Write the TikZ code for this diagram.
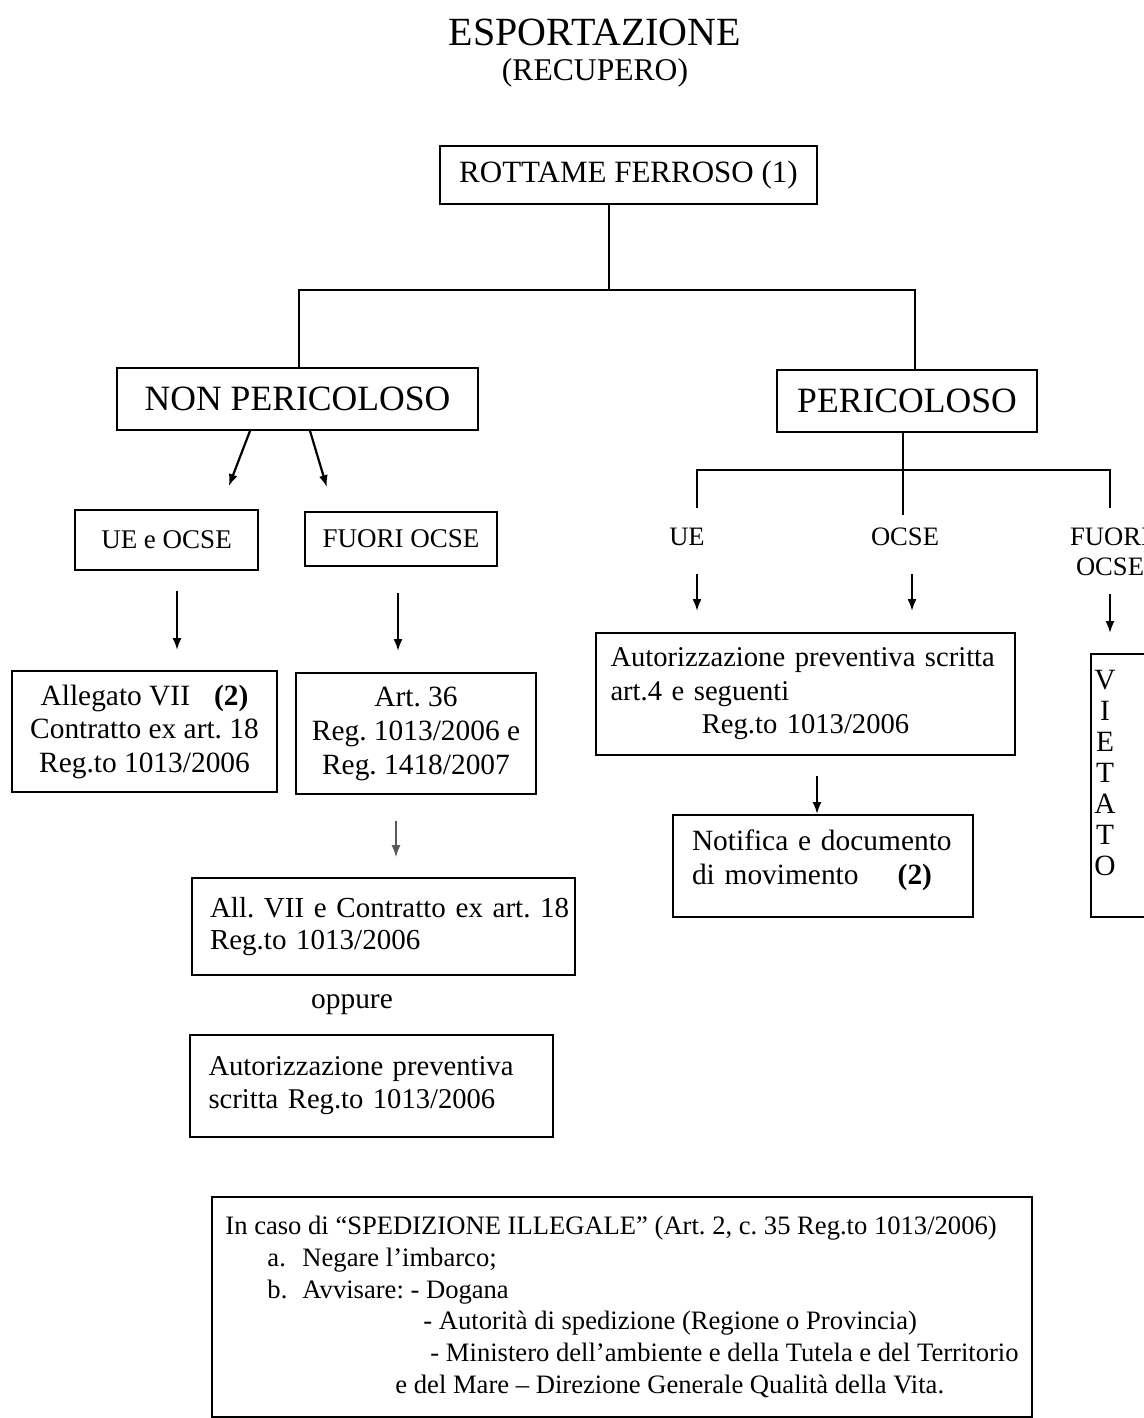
\documentclass[tikz,border=0pt]{standalone}
\usepackage{fontspec}
\setmainfont{Liberation Serif}
\usepackage{tikz}
\usetikzlibrary{arrows}
\usetikzlibrary{arrows.meta}
\usetikzlibrary{positioning}
\tikzset{box/.style = {draw, line width = 0.9, inner sep = 0, align = center}}
\tikzset{lbl/.style = {inner sep = 0, align = center, font = \fontsize{13.3}{15}\selectfont}}
\tikzset{conn/.style = {line width = 1.1}}
\tikzset{arr/.style = {-{Latex[length = 6pt, width = 4.5pt]}, line width = 1.1}}
\newcommand{\bodyfont}{\fontsize{14.7}{16.8}\selectfont}
\newcommand{\smallbox}{\fontsize{13.5}{16}\selectfont}
\frenchspacing

\begin{document}
\begin{tikzpicture}[x=0.5pt, y=-0.5pt, font=\bodyfont]
      \useasboundingbox (0, 0) rectangle (1144, 1418);

      \node (title) [font=\fontsize{20}{24}\selectfont] at (595, 32) {ESPORTAZIONE};
      \node (subtitle) [font=\fontsize{15.8}{19}\selectfont] at (595, 73) {(RECUPERO)};

      \node (rottame) [box, minimum width=188.5pt, minimum height=29pt, font=\fontsize{15.5}{18}\selectfont] at (628.5, 175) {ROTTAME FERROSO (1)};
      \node (nonper) [box, minimum width=180.5pt, minimum height=31pt, font=\fontsize{17.8}{20}\selectfont] at (297.5, 399) {NON PERICOLOSO};
      \node (per) [box, minimum width=130pt, minimum height=31pt, font=\fontsize{17.8}{20}\selectfont] at (907, 401) {PERICOLOSO};

      \node (ueocse) [box, minimum width=91.5pt, minimum height=30pt, font=\smallbox] at (166.5, 540) {UE e OCSE};
      \node (fuoriocse) [box, minimum width=96pt, minimum height=27pt, font=\smallbox] at (401, 539) {FUORI OCSE};

      \node (allegato) [box, minimum width=132.5pt, minimum height=60.5pt, font=\fontsize{14.7}{16.75}\selectfont] at (144.5, 731.5) {Allegato VII\hspace{12pt}\textbf{(2)}\\Contratto ex art. 18\\Reg.to 1013/2006};
      \node (art36) [box, minimum width=120pt, minimum height=60.5pt, font=\fontsize{14.7}{17}\selectfont] at (416, 733.5) {Art. 36\\Reg. 1013/2006 e\\Reg. 1418/2007};
      \node (allvii) [box, minimum width=191.5pt, minimum height=48.5pt, text width=173.5pt, align=left, font=\fontsize{14.5}{16}\selectfont] at (383.5, 926.5) {\makebox[\hsize][s]{All. VII e Contratto ex art. 18}\\Reg.to 1013/2006};
      \node (oppure) at (352, 1005) {oppure};
      \node (autprev) [box, minimum width=181.5pt, minimum height=51pt, text width=163pt, align=left, font=\fontsize{14.3}{16.5}\selectfont] at (371.5, 1086) {Autorizzazione preventiva\\scritta Reg.to 1013/2006};

      \node (ue) [lbl] at (687, 537) {UE};
      \node (ocse) [lbl] at (905, 537) {OCSE};
      \node (fuori) [lbl] at (1110, 552) {FUORI\\OCSE};

      \node (autscritta) [box, minimum width=209.5pt, minimum height=61pt, text width=195pt, align=left, font=\fontsize{14.3}{16.75}\selectfont] at (805.5, 694) {Autorizzazione preventiva scritta\\art.4 e seguenti\\\makebox[\hsize]{Reg.to 1013/2006}};
      \node (notifica) [box, minimum width=150pt, minimum height=51pt, text width=131pt, align=left, text depth=26pt, font=\fontsize{14.7}{17}\selectfont] at (823, 866) {\makebox[\hsize][s]{Notifica e documento}\\\makebox[\hsize][l]{di movimento\hfill\textbf{(2)}\hspace{11pt}}};
      \node (vietato) [box, minimum width=42pt, minimum height=131.5pt, text width=40pt, inner xsep=1pt, align=left, text depth=106pt, font=\fontsize{14.7}{15.5}\selectfont] at (1133, 785.5) {\makebox[12pt]{V}\\\makebox[12pt]{I}\\\makebox[12pt]{E}\\\makebox[12pt]{T}\\\makebox[12pt]{A}\\\makebox[12pt]{T}\\\makebox[12pt]{O}};

      \node (illegale) [box, minimum width=410pt, minimum height=110pt, align=left, font=\fontsize{13.3}{15.9}\selectfont] at (622, 1307) {In caso di “SPEDIZIONE ILLEGALE” (Art. 2, c. 35 Reg.to 1013/2006)\\
        \hspace*{21pt}\makebox[17.5pt][l]{a.}Negare l’imbarco;\\
        \hspace*{21pt}\makebox[17.5pt][l]{b.}Avvisare: - Dogana\\
        \hspace*{99pt}- Autorità di spedizione (Regione o Provincia)\\
        \hspace*{102.5pt}- Ministero dell’ambiente e della Tutela e del Territorio\\
        \hspace*{85pt}e del Mare -- Direzione Generale Qualità della Vita.};

      \coordinate (split) at (609, 290);
      \coordinate (hub) at (903, 470);

      \draw [conn] (rottame.south -| split) -- (split);
      \draw [conn] ([xshift=0.75pt]nonper.north) |- (split) -| ([xshift=4pt]per.north);
      \draw [conn] (per.south -| hub) -- (hub);
      \draw [conn, shorten >=10pt] (hub) -| ([xshift=5pt]ue.north);
      \draw [conn, shorten >=6.5pt] (hub) -- (hub |- ocse.north);
      \draw [conn, shorten >=10pt] (hub) -| (fuori.north);

      \draw [arr, shorten >=12.3pt] ([xshift=-23.75pt]nonper.south) -- ([xshift=26.75pt]ueocse.north);
      \draw [arr, shorten >=12.5pt] ([xshift=6.25pt]nonper.south) -- ([xshift=-33.5pt]fuoriocse.north);
      \draw [arr, shorten <=10pt, shorten >=10pt] ([xshift=5.25pt]ueocse.south) -- ([xshift=5.25pt]ueocse.south |- allegato.north);
      \draw [arr, shorten <=13pt, shorten >=10.5pt] ([xshift=-1.5pt]fuoriocse.south) -- ([xshift=-1.5pt]fuoriocse.south |- art36.north);
      \draw [arr, black!65, line width=0.8, shorten <=13pt, shorten >=10pt] ([xshift=-10pt]art36.south) -- ([xshift=-10pt]art36.south |- allvii.north);

      \draw [arr, shorten <=14pt, shorten >=10.5pt] ([xshift=5pt]ue.south) -- ([xshift=5pt]ue.south |- autscritta.north);
      \draw [arr, shorten <=14pt, shorten >=10.5pt] ([xshift=3.5pt]ocse.south) -- ([xshift=3.5pt]ocse.south |- autscritta.north);
      \draw [arr, shorten <=9pt, shorten >=10pt] (fuori.south) -- (fuori.south |- vietato.north);
      \draw [arr, shorten <=10pt] ([xshift=5.75pt]autscritta.south) -- ([xshift=5.75pt]autscritta.south |- notifica.north);
    \end{tikzpicture}
\end{document}
